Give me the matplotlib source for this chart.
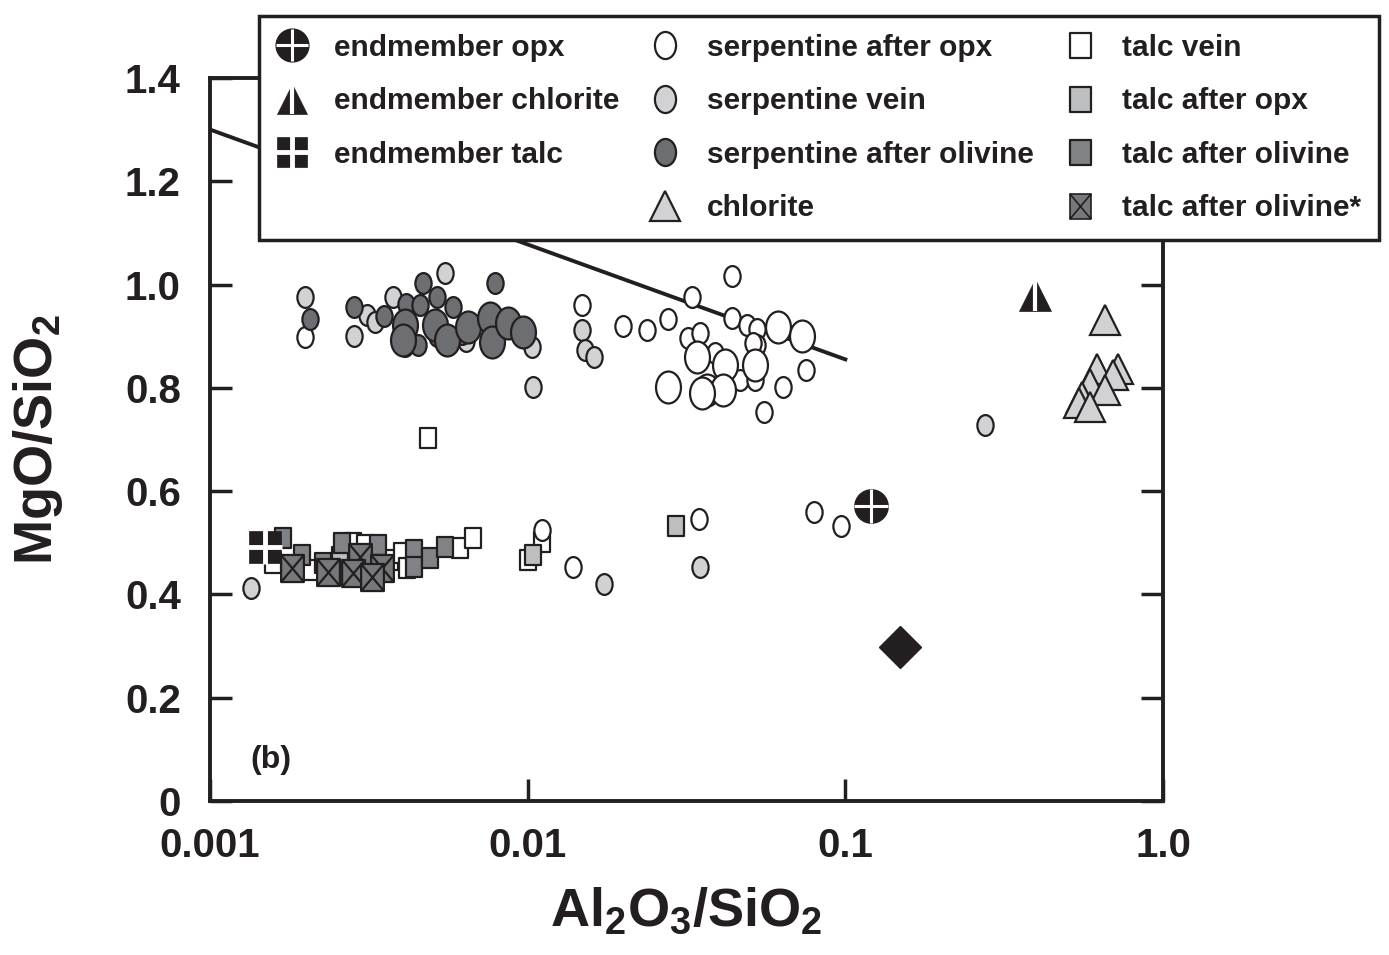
import numpy as np
import matplotlib.pyplot as plt
from matplotlib.path import Path
from matplotlib.lines import Line2D
from matplotlib.ticker import NullLocator

plt.rcParams['font.family'] = ['Liberation Sans', 'DejaVu Sans']
plt.rcParams['font.weight'] = 'bold'
plt.rcParams['mathtext.fontset'] = 'custom'
plt.rcParams['mathtext.rm'] = 'Liberation Sans:bold'
plt.rcParams['mathtext.default'] = 'rm'

# --- Data (Al2O3/SiO2, MgO/SiO2) ---
serp_opx_x = [0.00199, 0.0148, 0.01995, 0.02374, 0.02767, 0.03289, 0.04395, 0.0320, 0.0348,
              0.0440, 0.0490, 0.0527, 0.0527, 0.0751, 0.0637, 0.0554, 0.0466, 0.0519,
              0.0389, 0.0512, 0.0111, 0.0139, 0.0346, 0.0797, 0.0969]
serp_opx_y = [0.899, 0.960, 0.920, 0.912, 0.933, 0.976, 1.017, 0.897, 0.906,
              0.935, 0.922, 0.914, 0.883, 0.835, 0.802, 0.753, 0.815, 0.815,
              0.868, 0.887, 0.525, 0.453, 0.546, 0.560, 0.533]
serp_opx_big_x = [0.0276, 0.0340, 0.0418, 0.0519, 0.0614, 0.0730, 0.0366, 0.0412, 0.0355]
serp_opx_big_y = [0.802, 0.860, 0.844, 0.844, 0.918, 0.900, 0.796, 0.796, 0.790]

serp_vein_x = [0.00199, 0.00135, 0.00284, 0.00312, 0.0033, 0.00377, 0.0055, 0.0064, 0.0103,
               0.0104, 0.0148, 0.01514, 0.01618, 0.01738, 0.0348, 0.2748]
serp_vein_y = [0.975, 0.412, 0.900, 0.941, 0.928, 0.976, 1.022, 0.890, 0.879,
               0.802, 0.912, 0.873, 0.860, 0.420, 0.453, 0.728]

serp_ol_x = [0.00207, 0.00284, 0.00353, 0.00414, 0.00468, 0.00519, 0.00458, 0.00582, 0.00789,
             0.0041, 0.0045, 0.0052, 0.0062, 0.0095]
serp_ol_y = [0.933, 0.957, 0.939, 0.962, 1.003, 0.976, 0.960, 0.957, 1.003,
             0.880, 0.882, 0.900, 0.905, 0.915]
serp_ol_big_x = [0.00411, 0.00405, 0.00510, 0.00557, 0.00649, 0.00761, 0.00772, 0.00867, 0.00966]
serp_ol_big_y = [0.922, 0.893, 0.922, 0.893, 0.918, 0.935, 0.889, 0.926, 0.908]

chlorite_x = [0.656, 0.619, 0.721, 0.695, 0.589, 0.656, 0.556, 0.545, 0.589]
chlorite_y = [0.931, 0.837, 0.837, 0.825, 0.808, 0.796, 0.782, 0.771, 0.763]

talc_vein_x = [0.00158, 0.00207, 0.00282, 0.00308, 0.00369, 0.00402, 0.00417, 0.00612, 0.00673,
               0.00485, 0.0100, 0.0111]
talc_vein_y = [0.461, 0.447, 0.500, 0.496, 0.467, 0.480, 0.451, 0.490, 0.509,
               0.703, 0.467, 0.502]

talc_opx_x = [0.00256, 0.0104, 0.0293]
talc_opx_y = [0.472, 0.476, 0.533]

talc_ol_x = [0.00170, 0.00195, 0.00227, 0.00260, 0.00338, 0.00439, 0.00439, 0.00492, 0.00550]
talc_ol_y = [0.509, 0.476, 0.461, 0.500, 0.496, 0.486, 0.453, 0.471, 0.492]

talc_ol2_x = [0.00181, 0.00235, 0.00297, 0.00282, 0.00348, 0.00323]
talc_ol2_y = [0.451, 0.443, 0.472, 0.442, 0.451, 0.434]

end_opx = (0.1205, 0.571)
end_chl = (0.3954, 0.980)
end_talc = (0.00149, 0.492)
other_pt = (0.1486, 0.298)

trend_x = [0.001, 0.1]
trend_y = [1.30, 0.855]

x_ticks = [0.001, 0.01, 0.1, 1.0]
x_ticklabels = ['0.001', '0.01', '0.1', '1.0']
y_ticks = [0, 0.2, 0.4, 0.6, 0.8, 1.0, 1.2, 1.4]
y_ticklabels = ['0', '0.2', '0.4', '0.6', '0.8', '1.0', '1.2', '1.4']

# --- Styles ---
INK = '#231f20'
LIGHT = '#d1d2d4'
DARK = '#6d6e71'
SQ_LIGHT = '#bcbec0'
SQ_DARK = '#808285'
SQ_CROSS = '#77787b'

circ = Path.unit_circle()
ellipse = Path(circ.vertices * [0.78, 1.0], circ.codes)
bx = 0.42
box = Path([(-bx, -0.5), (bx, -0.5), (bx, 0.5), (-bx, 0.5), (0, 0)],
           [Path.MOVETO, Path.LINETO, Path.LINETO, Path.LINETO, Path.CLOSEPOLY])
crossed_box = Path([(-bx, -0.5), (bx, -0.5), (bx, 0.5), (-bx, 0.5), (0, 0),
                    (-bx, -0.5), (bx, 0.5), (-bx, 0.5), (bx, -0.5)],
                   [Path.MOVETO, Path.LINETO, Path.LINETO, Path.LINETO, Path.CLOSEPOLY,
                    Path.MOVETO, Path.LINETO, Path.MOVETO, Path.LINETO])


def pts(ax, x, y, marker, ms, face, z, mew=1.6):
    ax.plot(x, y, ls='none', marker=marker, ms=ms, mfc=face, mec=INK, mew=mew, zorder=z)


fig = plt.figure(figsize=(13.89, 9.55), dpi=100)
ax = fig.add_axes([0.1512, 0.1613, 0.6861, 0.7571])

ax.plot(trend_x, trend_y, color=INK, lw=2.8, zorder=2)

pts(ax, talc_vein_x, talc_vein_y, box, 14.5, 'white', 3)
pts(ax, talc_opx_x, talc_opx_y, box, 14.5, SQ_LIGHT, 3.1)
pts(ax, talc_ol_x, talc_ol_y, box, 14.5, SQ_DARK, 3.2)
pts(ax, talc_ol2_x, talc_ol2_y, crossed_box, 19.5, SQ_CROSS, 3.3)

pts(ax, serp_opx_x, serp_opx_y, ellipse, 15, 'white', 4)
pts(ax, serp_opx_big_x, serp_opx_big_y, ellipse, 23, 'white', 4.1)
pts(ax, serp_vein_x, serp_vein_y, ellipse, 15, LIGHT, 4.2)
pts(ax, serp_ol_x, serp_ol_y, ellipse, 15, DARK, 4.3)
pts(ax, serp_ol_big_x, serp_ol_big_y, ellipse, 23, DARK, 4.4)
pts(ax, chlorite_x, chlorite_y, '^', 22, LIGHT, 4.5)

# endmember compositions: black symbol split by white lines
ax.plot(*end_opx, ls='none', marker='o', ms=24, mfc=INK, mec=INK, zorder=6)
ax.plot(*end_opx, ls='none', marker='+', ms=24, mec='white', mew=2.2, zorder=6.1)
ax.plot(*end_chl, ls='none', marker='^', ms=23, mfc=INK, mec=INK, mew=0.5, zorder=6)
ax.plot(*end_chl, ls='none', marker='|', ms=23, mec='white', mew=3, zorder=6.1)
ax.plot(*end_talc, ls='none', marker='s', ms=23, mfc=INK, mec=INK, mew=0.5, zorder=6)
ax.plot(*end_talc, ls='none', marker='+', ms=24, mec='white', mew=3.5, zorder=6.1)
ax.plot(*other_pt, ls='none', marker='D', ms=21.5, mfc=INK, mec=INK, zorder=6)

ax.set_xscale('log')
ax.set_xlim(0.001, 1.0)
ax.set_ylim(0, 1.4)
ax.xaxis.set_minor_locator(NullLocator())
ax.set_xticks(x_ticks)
ax.set_xticklabels(x_ticklabels)
ax.set_yticks(y_ticks)
ax.set_yticklabels(y_ticklabels)
ax.tick_params(direction='in', length=16, width=2.5, color=INK, labelcolor=INK,
               labelsize=29, left=True, right=True, top=False, bottom=True)
ax.tick_params(axis='y', pad=21)
ax.tick_params(axis='x', pad=19)
for sp in ax.spines.values():
    sp.set_linewidth(2.8)
    sp.set_color(INK)

ax.set_xlabel(r'$\mathrm{Al_2O_3/SiO_2}$', fontsize=39, color=INK)
ax.set_ylabel(r'$\mathrm{MgO/SiO_2}$', fontsize=39, color=INK)
ax.xaxis.set_label_coords(0.5, -0.118)
ax.yaxis.set_label_coords(-0.152, 0.5)
ax.text(0.042, 0.057, '(b)', transform=ax.transAxes, fontsize=23, color=INK,
        ha='left', va='center')

# --- Legend ---
def key(marker, ms, face, mew=1.6, edge=INK):
    return Line2D([], [], ls='none', marker=marker, ms=ms, mfc=face, mec=edge, mew=mew)


handles = [
    (key('o', 23, INK), key('+', 23, 'none', 2.2, 'white')),
    (key('^', 22, INK, 0.5), key('|', 22, 'none', 3, 'white')),
    (key('s', 22, INK, 0.5), key('+', 23, 'none', 3.5, 'white')),
    Line2D([], [], ls='none'),
    key(ellipse, 19.5, 'white'),
    key(ellipse, 19.5, LIGHT),
    key(ellipse, 19.5, DARK),
    key('^', 22, LIGHT),
    key(box, 18, 'white'),
    key(box, 18, SQ_LIGHT),
    key(box, 18, SQ_DARK),
    key(crossed_box, 18, SQ_CROSS, 1.2),
]
labels = ['endmember opx', 'endmember chlorite', 'endmember talc', '',
          'serpentine after opx', 'serpentine vein', 'serpentine after olivine', 'chlorite',
          'talc vein', 'talc after opx', 'talc after olivine', 'talc after olivine*']

leg = fig.legend(handles, labels, ncol=3, loc='upper left',
                 bbox_to_anchor=(259 / 1389, 1 - 16 / 955), bbox_transform=fig.transFigure,
                 fontsize=21.5, frameon=True, fancybox=False, framealpha=1,
                 handlelength=1.0, handletextpad=0.9, columnspacing=1.05,
                 labelspacing=0.85, borderpad=0.6, borderaxespad=0)
leg.get_frame().set_edgecolor(INK)
leg.get_frame().set_linewidth(2.5)
for t in leg.get_texts():
    t.set_color(INK)

fig.savefig('out.png', dpi=100)
